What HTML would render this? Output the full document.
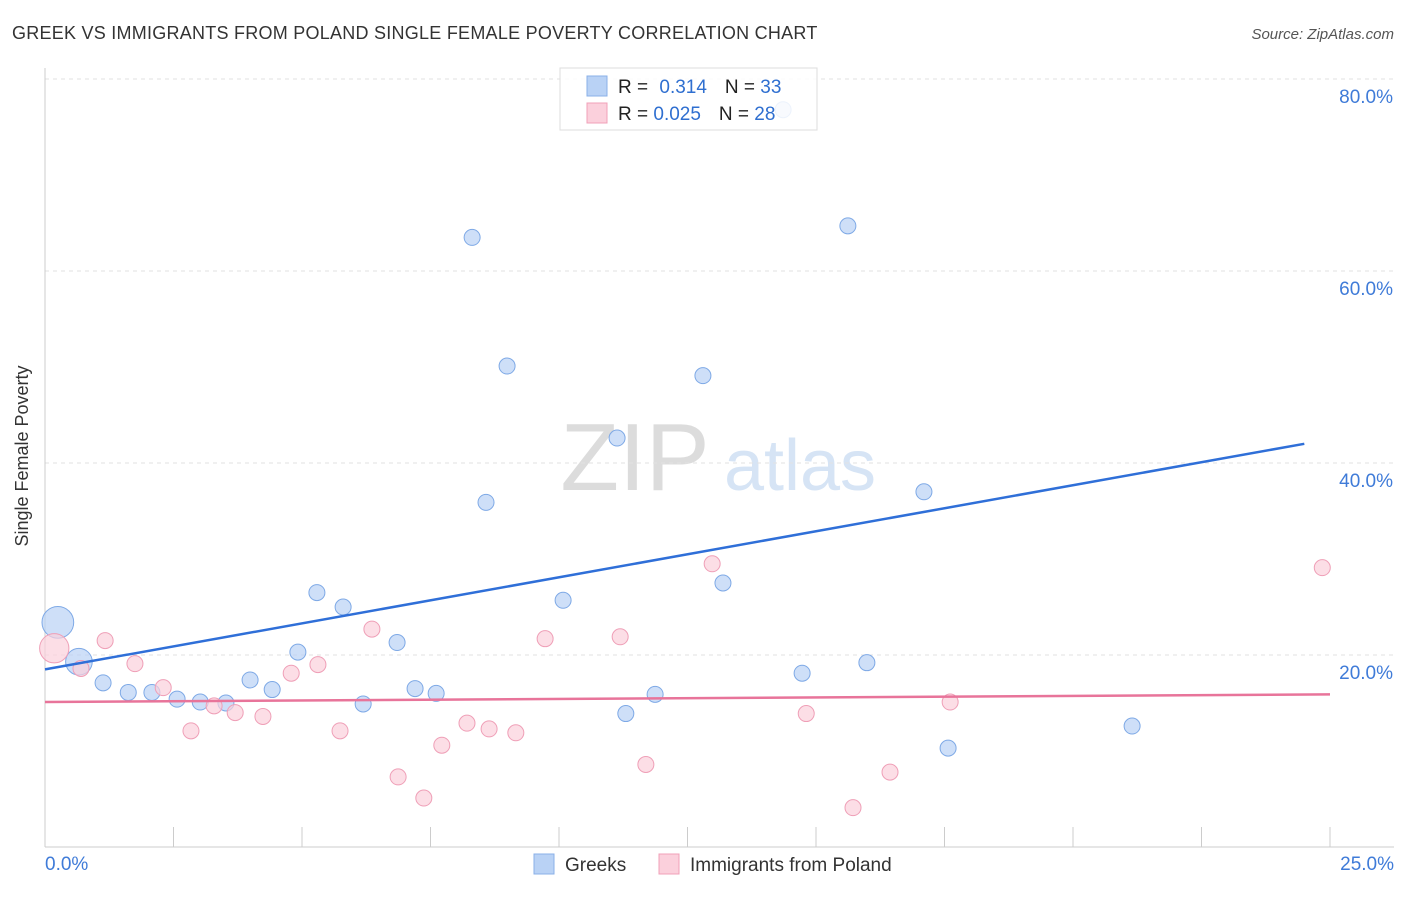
<!DOCTYPE html>
<html><head><meta charset="utf-8"><style>
body{margin:0;background:#fff;font-family:"Liberation Sans",sans-serif}
svg text{font-family:"Liberation Sans",sans-serif}
</style></head><body>
<svg id="chart" width="1406" height="892">
<text x="12" y="39" font-size="18" fill="#333" letter-spacing="0.25">GREEK VS IMMIGRANTS FROM POLAND SINGLE FEMALE POVERTY CORRELATION CHART</text>
<text x="1394" y="39" font-size="15" fill="#555" text-anchor="end" font-style="italic">Source: ZipAtlas.com</text>
<text x="28" y="456" font-size="18" fill="#333" text-anchor="middle" transform="rotate(-90 28 456)">Single Female Poverty</text>
<g><text x="635" y="490" font-size="96" fill="#dcdcdc" text-anchor="middle" font-family="Liberation Serif">ZIP</text><text x="800" y="490" font-size="72" fill="#d6e4f5" text-anchor="middle">atlas</text></g>
<g id="grid"></g><g id="axes"></g><g id="marks"></g>
<g>
<rect x="560" y="68" width="257" height="62" fill="#fff" fill-opacity="0.85" stroke="#ddd"/>
<rect x="587" y="76" width="20" height="20" fill="#b9d2f5" stroke="#8ab0e8"/>
<rect x="587" y="103" width="20" height="20" fill="#fbd0dc" stroke="#f0a0b8"/>
<text x="618" y="93" font-size="19" fill="#222">R = <tspan fill="#2f6fd0" dx="6">0.314</tspan><tspan fill="#222" dx="18">N = </tspan><tspan fill="#2f6fd0">33</tspan></text>
<text x="618" y="120" font-size="19" fill="#222">R = <tspan fill="#2f6fd0">0.025</tspan><tspan fill="#222" dx="18">N = </tspan><tspan fill="#2f6fd0">28</tspan></text>
</g>
<g>
<rect x="534" y="854" width="20" height="20" fill="#b9d2f5" stroke="#8ab0e8"/>
<text x="565" y="871" font-size="19" fill="#333">Greeks</text>
<rect x="659" y="854" width="20" height="20" fill="#fbd0dc" stroke="#f0a0b8"/>
<text x="690" y="871" font-size="19" fill="#333">Immigrants from Poland</text>
</g>
</svg>
<script>
const greekX=[0.25,0.66,1.13,1.62,2.08,2.57,3.02,3.52,3.99,4.42,4.92,5.29,5.80,6.19,6.85,7.20,7.61,8.31,8.58,8.99,10.08,11.13,11.30,11.87,12.80,13.19,14.73,15.62,15.99,17.10,17.57,21.15,14.36];
const greekY=[23.4,19.3,17.1,16.1,16.1,15.4,15.1,15.0,17.4,16.4,20.3,26.5,25.0,14.9,21.3,16.5,16.0,63.5,35.9,50.1,25.7,42.6,13.9,15.9,49.1,27.5,18.1,64.7,19.2,37.0,10.3,12.6,76.8];
const greekW=[3,2,1,1,1,1,1,1,1,1,1,1,1,1,1,1,1,1,1,1,1,1,1,1,1,1,1,1,1,1,1,1,1];
const polX=[0.18,0.70,1.17,1.75,2.30,2.84,3.29,3.70,4.24,4.79,5.31,5.74,6.36,6.87,7.37,7.72,8.21,8.64,9.16,9.73,11.19,11.69,12.98,14.81,15.72,16.44,17.61,24.85];
const polY=[20.7,18.6,21.5,19.1,16.6,12.1,14.7,14.0,13.6,18.1,19.0,12.1,22.7,7.3,5.1,10.6,12.9,12.3,11.9,21.7,21.9,8.6,29.5,13.9,4.1,7.8,15.1,29.1];
const polW=[2.5,1,1,1,1,1,1,1,1,1,1,1,1,1,1,1,1,1,1,1,1,1,1,1,1,1,1,1];
const greekTrend=[[0,18.5],[24.5,42.0]];
const polTrend=[[0,15.1],[25,15.9]];
const yTicks=[20,40,60,80];
const xTickLabels=["0.0%","25.0%"];
const X0=45,X1=1330,Y0=847,PY=9.6;
const sx=v=>X0+(X1-X0)*v/25, sy=v=>Y0-v*PY;
const NS="http://www.w3.org/2000/svg";
function mk(tag,attrs,parent){const e=document.createElementNS(NS,tag);for(const k in attrs)e.setAttribute(k,attrs[k]);document.getElementById(parent).appendChild(e);return e;}
yTicks.forEach(t=>{
 const l=mk('line',{x1:X0,x2:1394,y1:sy(t),y2:sy(t),stroke:'#e2e2e2','stroke-dasharray':'4,4'},'grid');
 
 
 const tx=mk('text',{x:1393,y:sy(t)+24,'font-size':19,fill:'#3f7bd8','text-anchor':'end'},'axes');
 tx.textContent=t.toFixed(1)+'%';
 
 
});
const ax=mk('line',{x1:X0,x2:X0,y1:68,y2:Y0,stroke:'#ccc'},'axes');


const bx=mk('line',{x1:X0,x2:1394,y1:Y0,y2:Y0,stroke:'#ccc'},'axes');


for(let i=1;i<=10;i++){const t=mk('line',{x1:sx(i*2.5),x2:sx(i*2.5),y1:827,y2:Y0,stroke:'#ccc'},'axes');
 
 }
[[xTickLabels[0],45,'start'],[xTickLabels[1],1394,'end']].forEach(([s,x,a])=>{const t=mk('text',{x:x,y:870,'font-size':19,fill:'#3f7bd8','text-anchor':a},'axes');t.textContent=s;
 
 });
greekX.forEach((v,i)=>{const c=mk('circle',{cx:sx(v),cy:sy(greekY[i]),r:8*Math.sqrt(greekW[i])+(greekW[i]>1?2:0),fill:'#b9d2f5','fill-opacity':0.7,stroke:'#7ea9e6'},'marks');
 
 });
polX.forEach((v,i)=>{const c=mk('circle',{cx:sx(v),cy:sy(polY[i]),r:8*Math.sqrt(polW[i])+(polW[i]>1?2:0),fill:'#fbd0dc','fill-opacity':0.7,stroke:'#ef9fb7'},'marks');
 
 });
const g=mk('line',{x1:sx(greekTrend[0][0]),y1:sy(greekTrend[0][1]),x2:sx(greekTrend[1][0]),y2:sy(greekTrend[1][1]),stroke:'#2f6fd8','stroke-width':2.5},'marks');


const p=mk('line',{x1:sx(polTrend[0][0]),y1:sy(polTrend[0][1]),x2:sx(polTrend[1][0]),y2:sy(polTrend[1][1]),stroke:'#e8749a','stroke-width':2.5},'marks');


</script>
</body></html>
